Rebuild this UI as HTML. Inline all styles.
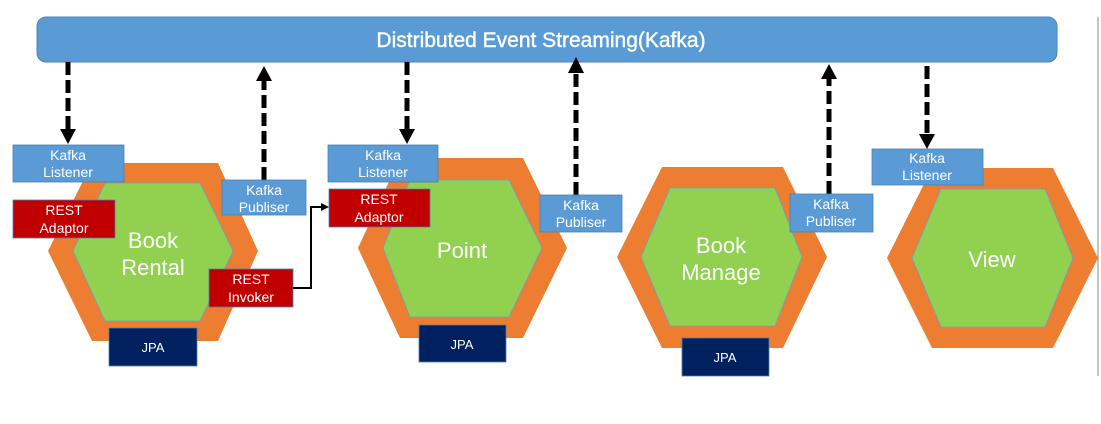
<!DOCTYPE html>
<html><head><meta charset="utf-8"><style>
html,body{margin:0;padding:0;background:#fff;}
svg{display:block;}
text{font-family:"Liberation Sans",sans-serif;fill:#fff;}
</style></head><body>
<svg width="1101" height="424" viewBox="0 0 1101 424" xmlns="http://www.w3.org/2000/svg">
<defs>
<marker id="ah" markerWidth="8" markerHeight="8" refX="6" refY="4" orient="auto" markerUnits="userSpaceOnUse"><path d="M0,0 L8,4 L0,8 Z" fill="#000"/></marker>
</defs>
<rect x="37" y="17" width="1020" height="45" rx="9" fill="#5b9bd5" stroke="#4a86c0" stroke-width="1"/>
<text x="541" y="47" font-size="21" text-anchor="middle" stroke="#fff" stroke-width="0.4">Distributed Event Streaming(Kafka)</text>
<line x1="1098" y1="17" x2="1098" y2="376" stroke="#888" stroke-width="1"/>

<polygon points="48,251 92,163 218,163 258,251 218,341 92,341" fill="#ed7d31"/>
<polygon points="73,251 105,183 200,183 233,251 200,321 105,321" fill="#92d050" stroke="#6a9fcf" stroke-width="0.8"/>
<polygon points="358,248 400,158 523,158 567,248 523,338 400,338" fill="#ed7d31"/>
<polygon points="383,248 410,180 509,180 542,248 509,317 410,317" fill="#92d050" stroke="#6a9fcf" stroke-width="0.8"/>
<polygon points="617,257 662,167 783,167 827,257 783,348 662,348" fill="#ed7d31"/>
<polygon points="641,257 670,188 775,188 802,257 775,326 670,326" fill="#92d050" stroke="#6a9fcf" stroke-width="0.8"/>
<polygon points="887,258 932,168 1053,168 1098,258 1053,348 932,348" fill="#ed7d31"/>
<polygon points="912,258 941,189 1045,189 1073,258 1045,327 941,327" fill="#92d050" stroke="#6a9fcf" stroke-width="0.8"/>

<text x="153" y="248" font-size="22" text-anchor="middle">Book</text>
<text x="153" y="275" font-size="22" text-anchor="middle">Rental</text>
<text x="462" y="258" font-size="22" text-anchor="middle">Point</text>
<text x="721" y="253" font-size="22" text-anchor="middle">Book</text>
<text x="721" y="280" font-size="22" text-anchor="middle">Manage</text>
<text x="992" y="267" font-size="22" text-anchor="middle">View</text>

<g stroke="#000" stroke-width="5" stroke-dasharray="13,5" fill="none">
<line x1="68" y1="62" x2="68" y2="130"/>
<line x1="264" y1="180" x2="264" y2="80"/>
<line x1="407" y1="62" x2="407" y2="130"/>
<line x1="576" y1="195" x2="576" y2="72"/>
<line x1="829" y1="194" x2="829" y2="78"/>
<line x1="927" y1="66" x2="927" y2="134"/>
</g>
<g fill="#000">
<polygon points="60,129 76,129 68,144"/>
<polygon points="256,81 272,81 264,66"/>
<polygon points="399,129 415,129 407,144"/>
<polygon points="568,73 584,73 576,57"/>
<polygon points="821,79 837,79 829,64"/>
<polygon points="919,134 935,134 927,149"/>
</g>

<g stroke="#4a7fb5" stroke-width="0.8">
<rect x="13" y="145" width="111" height="37" fill="#5b9bd5"/>
<rect x="222" y="180" width="84" height="35" fill="#5b9bd5"/>
<rect x="328" y="145" width="110" height="37" fill="#5b9bd5"/>
<rect x="540" y="195" width="82" height="37" fill="#5b9bd5"/>
<rect x="790" y="194" width="83" height="38" fill="#5b9bd5"/>
<rect x="872" y="149" width="111" height="36" fill="#5b9bd5"/>
<rect x="13" y="200" width="102" height="38" fill="#c00000"/>
<rect x="209" y="269" width="84" height="38" fill="#c00000"/>
<rect x="329" y="189" width="101" height="38" fill="#c00000"/>
<rect x="109" y="328" width="88" height="38" fill="#002060"/>
<rect x="419" y="325" width="87" height="37" fill="#002060"/>
<rect x="682" y="338" width="87" height="38" fill="#002060"/>
</g>
<g font-size="14" text-anchor="middle">
<text x="68" y="160">Kafka</text><text x="68" y="177">Listener</text>
<text x="264" y="195">Kafka</text><text x="264" y="212">Publiser</text>
<text x="383" y="160">Kafka</text><text x="383" y="177">Listener</text>
<text x="581" y="210">Kafka</text><text x="581" y="227">Publiser</text>
<text x="831" y="209">Kafka</text><text x="831" y="226">Publiser</text>
<text x="927" y="163">Kafka</text><text x="927" y="180">Listener</text>
<text x="64" y="215">REST</text><text x="64" y="233">Adaptor</text>
<text x="251" y="284">REST</text><text x="251" y="302">Invoker</text>
<text x="379" y="204">REST</text><text x="379" y="222">Adaptor</text>
<text x="153" y="352" font-size="13">JPA</text>
<text x="462" y="349" font-size="13">JPA</text>
<text x="725" y="362" font-size="13">JPA</text>
</g>
<polyline points="293,288 311,288 311,207 327,207" fill="none" stroke="#000" stroke-width="2" marker-end="url(#ah)"/>
</svg>
</body></html>
